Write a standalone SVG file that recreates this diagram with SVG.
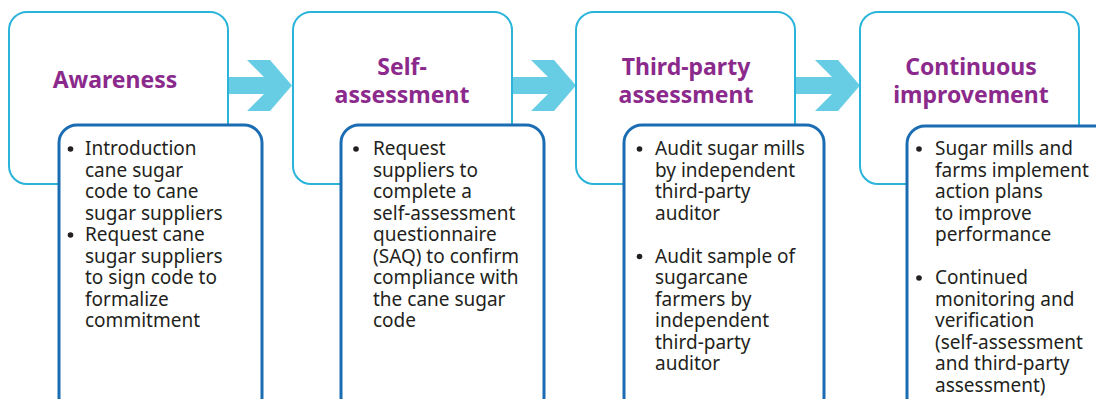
<svg xmlns="http://www.w3.org/2000/svg" width="1096" height="399" viewBox="0 0 1096 399">
<style>
.outer{fill:#ffffff;stroke:#2ab4da;stroke-width:2}
.inner{fill:#ffffff;stroke:#1b6db3;stroke-width:3}
.title{font-family:"Noto Sans","Liberation Sans",sans-serif;font-weight:bold;font-size:23px;fill:#8b2a8c;text-anchor:middle}
.body{font-family:"Noto Sans","Liberation Sans",sans-serif;font-size:19px;fill:#231f20}
.dot{fill:#231f20}
.arrow{fill:#67cde4}
</style>
<defs>
<polygon id="arr" class="arrow" points="0,77 36,77 19,60 42,60 64,85.5 42,111 19,111 36,94 0,94"/>
</defs>
<g id="connectors">
<use href="#arr" x="228"/>
<use href="#arr" x="512"/>
<use href="#arr" x="796"/>
</g>
<g id="awareness">
<rect class="outer" x="9" y="12" width="219" height="172" rx="18"/>
<text class="title" x="115" y="88">Awareness</text>
<rect class="inner" x="59" y="125" width="203" height="290" rx="18"/>
<circle class="dot" cx="70.5" cy="149" r="2.8"/>
<circle class="dot" cx="70.5" cy="235" r="2.8"/>
<text class="body" x="85" y="155"><tspan x="85">Introduction</tspan><tspan x="85" dy="21.5">cane sugar</tspan><tspan x="85" dy="21.5">code to cane</tspan><tspan x="85" dy="21.5">sugar suppliers</tspan><tspan x="85" dy="21.5">Request cane</tspan><tspan x="85" dy="21.5">sugar suppliers</tspan><tspan x="85" dy="21.5">to sign code to</tspan><tspan x="85" dy="21.5">formalize</tspan><tspan x="85" dy="21.5">commitment</tspan></text>
</g>
<g id="self-assessment">
<rect class="outer" x="293" y="12" width="219" height="172" rx="18"/>
<text class="title" x="402" y="75"><tspan x="402">Self-</tspan><tspan x="402" dy="28">assessment</tspan></text>
<rect class="inner" x="341" y="125" width="203" height="290" rx="18"/>
<circle class="dot" cx="356" cy="149" r="2.8"/>
<text class="body" x="373" y="155"><tspan x="373">Request</tspan><tspan x="373" dy="21.5">suppliers to</tspan><tspan x="373" dy="21.5">complete a</tspan><tspan x="373" dy="21.5">self-assessment</tspan><tspan x="373" dy="21.5">questionnaire</tspan><tspan x="373" dy="21.5">(SAQ) to confirm</tspan><tspan x="373" dy="21.5">compliance with</tspan><tspan x="373" dy="21.5">the cane sugar</tspan><tspan x="373" dy="21.5">code</tspan></text>
</g>
<g id="third-party">
<rect class="outer" x="576" y="12" width="219" height="172" rx="18"/>
<text class="title" x="686" y="75"><tspan x="686">Third-party</tspan><tspan x="686" dy="28">assessment</tspan></text>
<rect class="inner" x="624" y="125" width="200" height="290" rx="18"/>
<circle class="dot" cx="639.5" cy="149" r="2.8"/>
<circle class="dot" cx="639.5" cy="256.5" r="2.8"/>
<text class="body" x="655" y="155"><tspan x="655">Audit sugar mills</tspan><tspan x="655" dy="21.5">by independent</tspan><tspan x="655" dy="21.5">third-party</tspan><tspan x="655" dy="21.5">auditor</tspan><tspan x="655" dy="43">Audit sample of</tspan><tspan x="655" dy="21.5">sugarcane</tspan><tspan x="655" dy="21.5">farmers by</tspan><tspan x="655" dy="21.5">independent</tspan><tspan x="655" dy="21.5">third-party</tspan><tspan x="655" dy="21.5">auditor</tspan></text>
</g>
<g id="continuous">
<rect class="outer" x="860" y="12" width="219" height="172" rx="18"/>
<text class="title" x="971" y="75"><tspan x="971">Continuous</tspan><tspan x="971" dy="28">improvement</tspan></text>
<rect class="inner" x="907" y="126" width="210" height="290" rx="18"/>
<circle class="dot" cx="919" cy="149" r="2.8"/>
<circle class="dot" cx="919" cy="278" r="2.8"/>
<text class="body" x="935" y="155"><tspan x="935">Sugar mills and</tspan><tspan x="935" dy="21.5">farms implement</tspan><tspan x="935" dy="21.5">action plans</tspan><tspan x="935" dy="21.5">to improve</tspan><tspan x="935" dy="21.5">performance</tspan><tspan x="935" dy="43">Continued</tspan><tspan x="935" dy="21.5">monitoring and</tspan><tspan x="935" dy="21.5">verification</tspan><tspan x="935" dy="21.5">(self-assessment</tspan><tspan x="935" dy="21.5">and third-party</tspan><tspan x="935" dy="21.5">assessment)</tspan></text>
</g>
</svg>
